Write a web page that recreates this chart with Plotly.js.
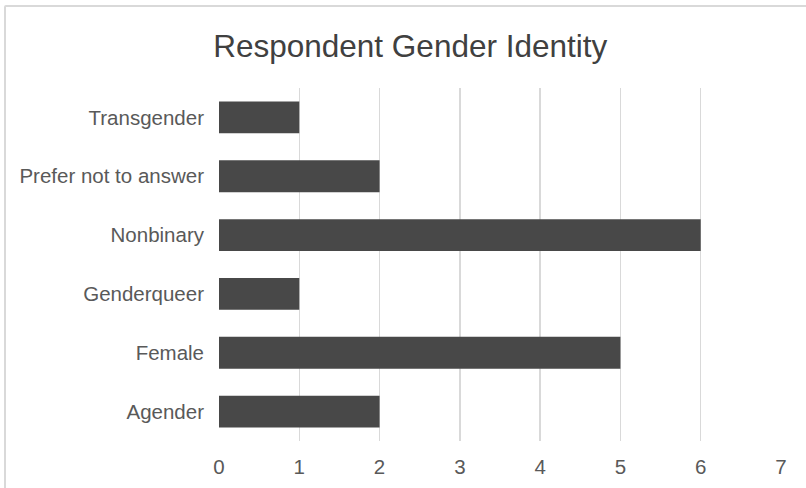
<!DOCTYPE html>
<html>
<head>
<meta charset="utf-8">
<script src="https://cdn.plot.ly/plotly-3.0.1.min.js"></script>
<style>
  html, body { margin: 0; padding: 0; background: #ffffff; }
  #frame {
    position: absolute; left: 4px; top: 5px; width: 830px; height: 520px;
    border: 2px solid #d9d9d9; border-radius: 2px; box-sizing: border-box;
  }
  #chart { position: absolute; left: 0; top: 0; width: 806px; height: 488px; }
</style>
</head>
<body>
<div id="frame"></div>
<div id="chart"></div>
<script>
// Respondent counts per gender identity (bottom-to-top order)
const categories = ["Agender", "Female", "Genderqueer", "Nonbinary", "Prefer not to answer", "Transgender"];
const counts = [2, 5, 1, 6, 2, 1];
const xTicks = [0, 1, 2, 3, 4, 5, 6, 7];

const trace = {
  type: "bar",
  orientation: "h",
  y: categories,
  x: counts,
  marker: { color: "#484848" },
  hoverinfo: "x+y"
};

const layout = {
  width: 806,
  height: 488,
  paper_bgcolor: "rgba(0,0,0,0)",
  plot_bgcolor: "rgba(0,0,0,0)",
  margin: { l: 219, r: 25, t: 88, b: 47 },
  bargap: 0.46,
  showlegend: false,
  font: { family: "Liberation Sans, Arial, sans-serif", color: "#595959", size: 20 },
  title: {
    text: "Respondent Gender Identity",
    font: { family: "Liberation Sans, Arial, sans-serif", size: 31.5, color: "#404040" },
    x: 0.509, xanchor: "center",
    y: 0.905, yanchor: "middle",
    xref: "container", yref: "container"
  },
  xaxis: {
    range: [0, 7],
    tickvals: xTicks,
    ticktext: xTicks.map(String),
    showgrid: true,
    gridcolor: "#d9d9d9",
    gridwidth: 1.5,
    zeroline: false,
    showline: false,
    ticks: "",
    ticklabelstandoff: 11,
    tickfont: { size: 20.5, color: "#595959" },
    fixedrange: true
  },
  yaxis: {
    type: "category",
    categoryorder: "array",
    categoryarray: categories,
    showgrid: false,
    zeroline: false,
    showline: false,
    ticks: "",
    ticklabelstandoff: 14,
    tickfont: { size: 20.5, color: "#595959" },
    fixedrange: true
  }
};

Plotly.newPlot("chart", [trace], layout, { displayModeBar: false, staticPlot: true });
</script>
</body>
</html>
